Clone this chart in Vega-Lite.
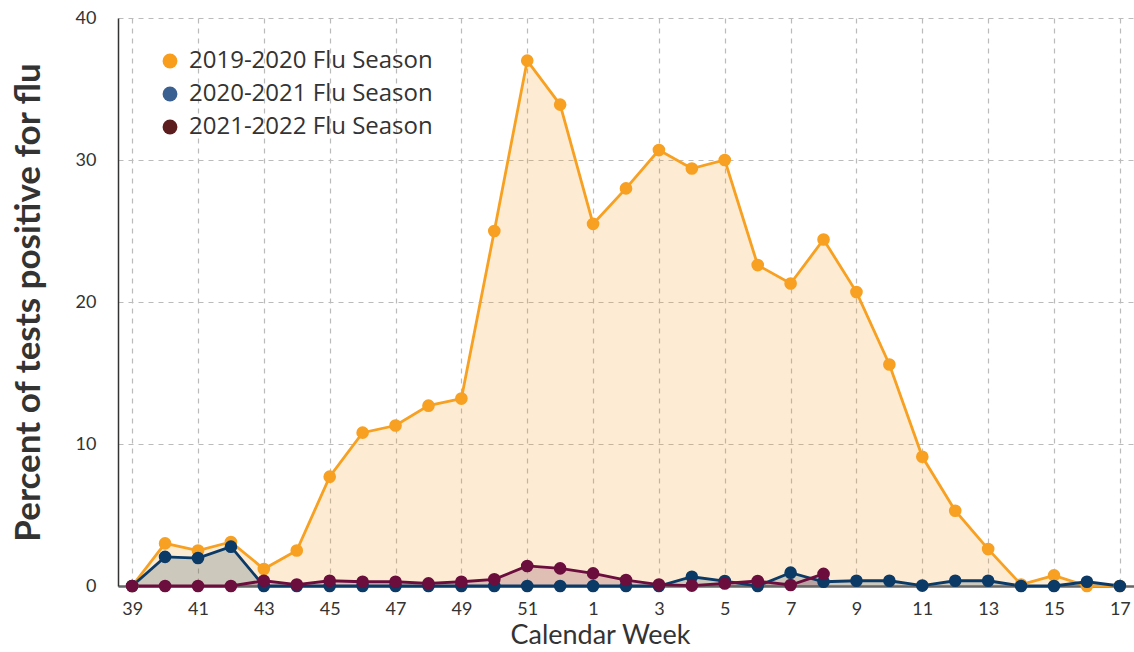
{
  "$schema": "https://vega.github.io/schema/vega-lite/v6.json",
  "width": 1016,
  "height": 568,
  "autosize": "none",
  "padding": {"left": 118, "top": 18, "right": 0, "bottom": 66},
  "background": "white",
  "config": {
    "font": "Lato",
    "view": {"stroke": null}
  },
  "data": {
    "values": [
      {"week": "39", "season": "2019-2020 Flu Season", "value": 0},
      {"week": "40", "season": "2019-2020 Flu Season", "value": 3.0},
      {"week": "41", "season": "2019-2020 Flu Season", "value": 2.5},
      {"week": "42", "season": "2019-2020 Flu Season", "value": 3.1},
      {"week": "43", "season": "2019-2020 Flu Season", "value": 1.2},
      {"week": "44", "season": "2019-2020 Flu Season", "value": 2.5},
      {"week": "45", "season": "2019-2020 Flu Season", "value": 7.7},
      {"week": "46", "season": "2019-2020 Flu Season", "value": 10.8},
      {"week": "47", "season": "2019-2020 Flu Season", "value": 11.3},
      {"week": "48", "season": "2019-2020 Flu Season", "value": 12.7},
      {"week": "49", "season": "2019-2020 Flu Season", "value": 13.2},
      {"week": "50", "season": "2019-2020 Flu Season", "value": 25.0},
      {"week": "51", "season": "2019-2020 Flu Season", "value": 37.0},
      {"week": "52", "season": "2019-2020 Flu Season", "value": 33.9},
      {"week": "1", "season": "2019-2020 Flu Season", "value": 25.5},
      {"week": "2", "season": "2019-2020 Flu Season", "value": 28.0},
      {"week": "3", "season": "2019-2020 Flu Season", "value": 30.7},
      {"week": "4", "season": "2019-2020 Flu Season", "value": 29.4},
      {"week": "5", "season": "2019-2020 Flu Season", "value": 30.0},
      {"week": "6", "season": "2019-2020 Flu Season", "value": 22.6},
      {"week": "7", "season": "2019-2020 Flu Season", "value": 21.3},
      {"week": "8", "season": "2019-2020 Flu Season", "value": 24.4},
      {"week": "9", "season": "2019-2020 Flu Season", "value": 20.7},
      {"week": "10", "season": "2019-2020 Flu Season", "value": 15.6},
      {"week": "11", "season": "2019-2020 Flu Season", "value": 9.1},
      {"week": "12", "season": "2019-2020 Flu Season", "value": 5.3},
      {"week": "13", "season": "2019-2020 Flu Season", "value": 2.6},
      {"week": "14", "season": "2019-2020 Flu Season", "value": 0.1},
      {"week": "15", "season": "2019-2020 Flu Season", "value": 0.75},
      {"week": "16", "season": "2019-2020 Flu Season", "value": 0},
      {"week": "17", "season": "2019-2020 Flu Season", "value": 0},

      {"week": "39", "season": "2020-2021 Flu Season", "value": 0},
      {"week": "40", "season": "2020-2021 Flu Season", "value": 2.05},
      {"week": "41", "season": "2020-2021 Flu Season", "value": 1.97},
      {"week": "42", "season": "2020-2021 Flu Season", "value": 2.77},
      {"week": "43", "season": "2020-2021 Flu Season", "value": 0},
      {"week": "44", "season": "2020-2021 Flu Season", "value": 0},
      {"week": "45", "season": "2020-2021 Flu Season", "value": 0},
      {"week": "46", "season": "2020-2021 Flu Season", "value": 0},
      {"week": "47", "season": "2020-2021 Flu Season", "value": 0},
      {"week": "48", "season": "2020-2021 Flu Season", "value": 0},
      {"week": "49", "season": "2020-2021 Flu Season", "value": 0},
      {"week": "50", "season": "2020-2021 Flu Season", "value": 0},
      {"week": "51", "season": "2020-2021 Flu Season", "value": 0},
      {"week": "52", "season": "2020-2021 Flu Season", "value": 0},
      {"week": "1", "season": "2020-2021 Flu Season", "value": 0},
      {"week": "2", "season": "2020-2021 Flu Season", "value": 0},
      {"week": "3", "season": "2020-2021 Flu Season", "value": 0},
      {"week": "4", "season": "2020-2021 Flu Season", "value": 0.65},
      {"week": "5", "season": "2020-2021 Flu Season", "value": 0.35},
      {"week": "6", "season": "2020-2021 Flu Season", "value": 0},
      {"week": "7", "season": "2020-2021 Flu Season", "value": 0.94},
      {"week": "8", "season": "2020-2021 Flu Season", "value": 0.3},
      {"week": "9", "season": "2020-2021 Flu Season", "value": 0.37},
      {"week": "10", "season": "2020-2021 Flu Season", "value": 0.37},
      {"week": "11", "season": "2020-2021 Flu Season", "value": 0.03},
      {"week": "12", "season": "2020-2021 Flu Season", "value": 0.37},
      {"week": "13", "season": "2020-2021 Flu Season", "value": 0.37},
      {"week": "14", "season": "2020-2021 Flu Season", "value": 0},
      {"week": "15", "season": "2020-2021 Flu Season", "value": 0},
      {"week": "16", "season": "2020-2021 Flu Season", "value": 0.3},
      {"week": "17", "season": "2020-2021 Flu Season", "value": 0},

      {"week": "39", "season": "2021-2022 Flu Season", "value": 0},
      {"week": "40", "season": "2021-2022 Flu Season", "value": 0},
      {"week": "41", "season": "2021-2022 Flu Season", "value": 0},
      {"week": "42", "season": "2021-2022 Flu Season", "value": 0},
      {"week": "43", "season": "2021-2022 Flu Season", "value": 0.37},
      {"week": "44", "season": "2021-2022 Flu Season", "value": 0.1},
      {"week": "45", "season": "2021-2022 Flu Season", "value": 0.37},
      {"week": "46", "season": "2021-2022 Flu Season", "value": 0.3},
      {"week": "47", "season": "2021-2022 Flu Season", "value": 0.3},
      {"week": "48", "season": "2021-2022 Flu Season", "value": 0.18},
      {"week": "49", "season": "2021-2022 Flu Season", "value": 0.3},
      {"week": "50", "season": "2021-2022 Flu Season", "value": 0.47},
      {"week": "51", "season": "2021-2022 Flu Season", "value": 1.41},
      {"week": "52", "season": "2021-2022 Flu Season", "value": 1.24},
      {"week": "1", "season": "2021-2022 Flu Season", "value": 0.89},
      {"week": "2", "season": "2021-2022 Flu Season", "value": 0.42},
      {"week": "3", "season": "2021-2022 Flu Season", "value": 0.1},
      {"week": "4", "season": "2021-2022 Flu Season", "value": 0.03},
      {"week": "5", "season": "2021-2022 Flu Season", "value": 0.18},
      {"week": "6", "season": "2021-2022 Flu Season", "value": 0.35},
      {"week": "7", "season": "2021-2022 Flu Season", "value": 0.07},
      {"week": "8", "season": "2021-2022 Flu Season", "value": 0.85}
    ]
  },
  "encoding": {
    "x": {
      "field": "week",
      "type": "ordinal",
      "sort": null,
      "scale": {
        "type": "point",
        "domain": ["39","40","41","42","43","44","45","46","47","48","49","50","51","52","1","2","3","4","5","6","7","8","9","10","11","12","13","14","15","16","17"],
        "padding": 0.43
      },
      "axis": {
        "values": ["39","41","43","45","47","49","51","1","3","5","7","9","11","13","15","17"],
        "labelAngle": 0,
        "labelFontSize": 18,
        "labelColor": "#333333",
        "labelPadding": 14,
        "ticks": false,
        "domainColor": "#666666",
        "domainWidth": 2.5,
        "grid": true,
        "gridDash": [5, 5],
        "gridColor": "#bbbbbb",
        "gridWidth": 1.2,
        "title": "Calendar Week",
        "titleFontSize": 27,
        "titleFontWeight": "normal",
        "titleColor": "#333333",
        "titlePadding": 4,
        "titleX": 482
      }
    },
    "y": {
      "field": "value",
      "type": "quantitative",
      "stack": null,
      "scale": {"domain": [0, 40], "nice": false},
      "axis": {
        "values": [0, 10, 20, 30, 40],
        "labelFontSize": 18,
        "labelColor": "#333333",
        "labelPadding": 22,
        "ticks": false,
        "domainColor": "#333333",
        "domainWidth": 1.5,
        "grid": true,
        "gridDash": [5, 5],
        "gridColor": "#bbbbbb",
        "gridWidth": 1.2,
        "title": "Percent of tests positive for flu",
        "titleFontSize": 35,
        "titleFontWeight": "bold",
        "titleColor": "#333333",
        "titlePadding": 29
      }
    }
  },
  "layer": [
    {
      "mark": {"type": "area", "opacity": 0.2},
      "encoding": {
        "color": {
          "field": "season",
          "type": "nominal",
          "scale": {
            "domain": ["2019-2020 Flu Season", "2020-2021 Flu Season", "2021-2022 Flu Season"],
            "range": ["#f7a021", "#0c3a66", "#6b0d3d"]
          },
          "legend": null
        }
      }
    },
    {
      "mark": {"type": "line", "strokeWidth": 2.8},
      "encoding": {
        "color": {
          "field": "season",
          "type": "nominal",
          "scale": {
            "domain": ["2019-2020 Flu Season", "2020-2021 Flu Season", "2021-2022 Flu Season"],
            "range": ["#f7a021", "#0c3a66", "#6b0d3d"]
          },
          "legend": null
        }
      }
    },
    {
      "mark": {"type": "circle", "size": 160, "opacity": 1},
      "encoding": {
        "color": {
          "field": "season",
          "type": "nominal",
          "scale": {
            "domain": ["2019-2020 Flu Season", "2020-2021 Flu Season", "2021-2022 Flu Season"],
            "range": ["#f7a021", "#0c3a66", "#6b0d3d"]
          },
          "legend": null
        }
      }
    },
    {
      "mark": {"type": "circle", "size": 150, "opacity": 0},
      "encoding": {
        "fill": {
          "field": "season",
          "type": "nominal",
          "scale": {
            "domain": ["2019-2020 Flu Season", "2020-2021 Flu Season", "2021-2022 Flu Season"],
            "range": ["#f99d1c", "#3a5f91", "#5c1d1f"]
          },
          "legend": {
            "title": null,
            "orient": "none",
            "legendX": 40,
            "legendY": 31,
            "symbolType": "circle",
            "symbolSize": 220,
            "symbolOpacity": 1,
            "symbolStrokeWidth": 0,
            "labelFontSize": 24,
            "labelColor": "#333333",
            "labelFont": "Open Sans",
            "labelOffset": 7,
            "rowPadding": 9,
            "labelLimit": 400
          }
        }
      }
    }
  ],
  "resolve": {"scale": {"color": "independent", "fill": "independent"}}
}
